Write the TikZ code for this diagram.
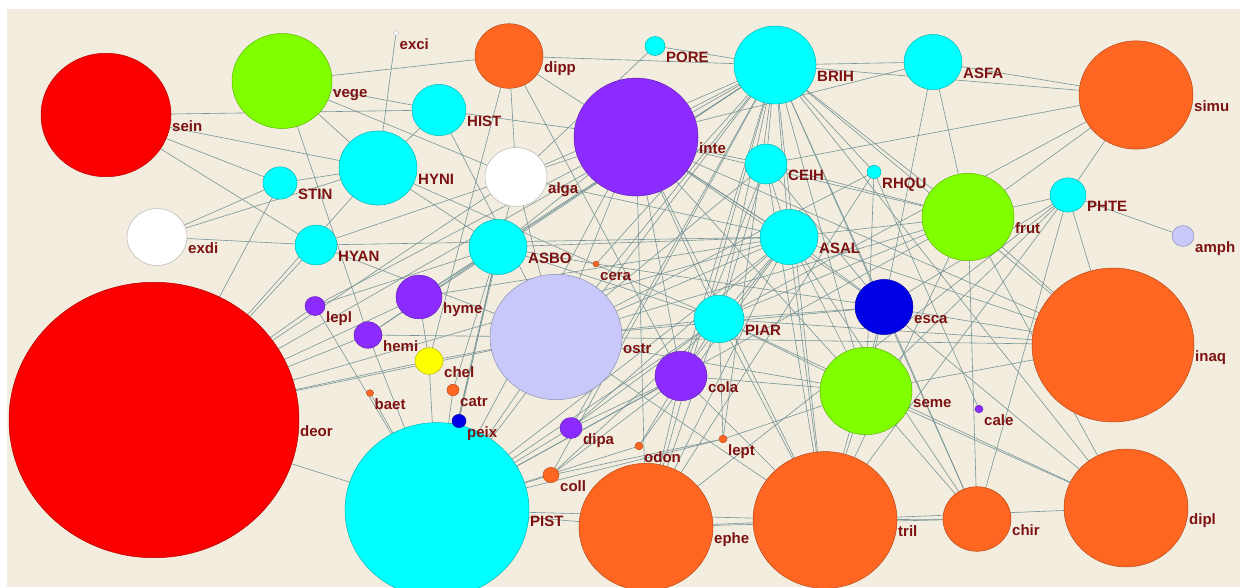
\documentclass[tikz,border=0pt]{standalone}
\usepackage{fontspec}
\setmainfont{Liberation Sans}
\usetikzlibrary{shapes.geometric}
\definecolor{bgc}{RGB}{242,237,222}
\definecolor{edgec}{RGB}{120,148,152}
\definecolor{labc}{RGB}{125,18,18}
\definecolor{redc}{RGB}{250,0,0}
\definecolor{greenc}{RGB}{128,255,0}
\definecolor{cyanc}{RGB}{0,255,255}
\definecolor{orangec}{RGB}{255,102,34}
\definecolor{purplec}{RGB}{140,43,255}
\definecolor{lavc}{RGB}{200,200,250}
\definecolor{bluec}{RGB}{0,0,230}
\definecolor{yellowc}{RGB}{255,255,0}
\definecolor{whitec}{RGB}{255,255,255}
\pgfdeclarelayer{bg}
\pgfdeclarelayer{edges}
\pgfsetlayers{bg,edges,main}
\tikzset{
  nd/.style={ellipse, inner sep=0pt, outer sep=0pt, fill=#1, draw=#1!72!black, line width=0.5pt},
  lbl/.style={anchor=base west, yshift=-16pt, xshift=1pt, inner sep=0pt, text=labc,
              font=\fontsize{15}{17}\selectfont\bfseries},
  edge/.style={draw=edgec, line width=0.6pt}
}
\newcommand\nd[6]{\node[nd=#5, minimum width=#4*2pt, minimum height=#4*1.9pt, label={[lbl]east:#6}] (#1) at (#2,#3) {};}
\begin{document}
\begin{tikzpicture}[x=1pt,y=-1pt]
\useasboundingbox (0,0) rectangle (1240,587);
\begin{pgfonlayer}{bg}
\fill[white] (0,0) rectangle (1240,587);
\fill[bgc] (7,9) rectangle (1240,587);
\end{pgfonlayer}
% nodes (large ones first so that labels of small ones stay on top)
\nd{PIST}{437}{510}{92}{cyanc}{PIST}
\nd{deor}{154}{420}{145}{redc}{deor}
\nd{sein}{106}{115}{65}{redc}{sein}
\nd{vege}{282}{81}{50}{greenc}{vege}
\nd{exci}{396}{33}{2.5}{whitec}{exci}
\nd{STIN}{280}{183}{17}{cyanc}{STIN}
\nd{exdi}{157}{237}{30}{whitec}{exdi}
\nd{HYNI}{378}{168}{39}{cyanc}{HYNI}
\nd{HYAN}{316}{245}{21}{cyanc}{HYAN}
\nd{dipp}{509}{56}{34}{orangec}{dipp}
\nd{PORE}{655}{46}{10}{cyanc}{PORE}
\nd{HIST}{439}{110}{27}{cyanc}{HIST}
\nd{alga}{516}{177}{31}{whitec}{alga}
\nd{inte}{636}{137}{62}{purplec}{inte}
\nd{ASBO}{498}{247}{29}{cyanc}{ASBO}
\nd{cera}{596}{264}{3}{orangec}{cera}
\nd{BRIH}{775}{65}{41}{cyanc}{BRIH}
\nd{CEIH}{766}{164}{21}{cyanc}{CEIH}
\nd{ASAL}{789}{237}{29}{cyanc}{ASAL}
\nd{ASFA}{933}{62}{29}{cyanc}{ASFA}
\nd{simu}{1136}{95}{57}{orangec}{simu}
\nd{RHQU}{874}{172}{7}{cyanc}{RHQU}
\nd{frut}{968}{217}{46}{greenc}{frut}
\nd{PHTE}{1068}{195}{18}{cyanc}{PHTE}
\nd{amph}{1183}{236}{11}{lavc}{amph}
\nd{lepl}{315}{306}{10}{purplec}{lepl}
\nd{hemi}{368}{335}{14}{purplec}{hemi}
\nd{baet}{370}{393}{3.5}{orangec}{baet}
\nd{hyme}{419}{297}{23}{purplec}{hyme}
\nd{chel}{429}{361}{14}{yellowc}{chel}
\nd{catr}{453}{390}{6}{orangec}{catr}
\nd{peix}{459}{421}{7}{bluec}{peix}
\nd{ostr}{556}{337}{66}{lavc}{ostr}
\nd{PIAR}{719}{319}{25}{cyanc}{PIAR}
\nd{cola}{681}{376}{26}{purplec}{cola}
\nd{dipa}{571}{428}{11}{purplec}{dipa}
\nd{odon}{639}{446}{4}{orangec}{odon}
\nd{lept}{723}{439}{4}{orangec}{lept}
\nd{coll}{551}{475}{8}{orangec}{coll}
\nd{ephe}{646}{527}{67}{orangec}{ephe}
\nd{tril}{825}{520}{72}{orangec}{tril}
\nd{esca}{884}{307}{29}{bluec}{esca}
\nd{seme}{866}{391}{46}{greenc}{seme}
\nd{cale}{979}{409}{4}{purplec}{cale}
\nd{inaq}{1113}{345}{81}{orangec}{inaq}
\nd{chir}{977}{519}{34}{orangec}{chir}
\nd{dipl}{1126}{508}{62}{orangec}{dipl}
% edges
\begin{pgfonlayer}{edges}
\foreach \a/\b in {
sein/HIST, sein/HYNI, sein/STIN, sein/HYAN,
vege/dipp, vege/HIST, vege/alga, vege/HYNI, vege/hemi,
exci/HYNI,
STIN/HYNI, STIN/deor,
exdi/STIN, exdi/HYNI, exdi/HYAN,
HYAN/deor, HYNI/deor, HYAN/alga, HYAN/ostr, HYAN/ASAL,
HYNI/HIST, HYNI/PIAR, HYNI/ASBO,
HIST/inte, HIST/ostr,
dipp/BRIH, dipp/chel, dipp/cola, dipp/ASAL, dipp/alga,
PORE/BRIH, PORE/alga,
alga/inte, alga/ostr, alga/PIST, alga/BRIH, alga/ASAL, alga/deor,
lepl/PIST, lepl/deor, lepl/ASBO, lepl/inte,
hemi/PIST, hemi/deor, hemi/ASBO, hemi/ostr, hemi/BRIH,
hyme/chel, hyme/ASBO, hyme/deor, hyme/BRIH, hyme/ASAL,
chel/PIST, chel/deor, chel/ostr,
catr/PIST, catr/ASBO,
peix/PIST, peix/ASBO,
baet/PIST,
deor/PIST, deor/ostr, deor/ASAL,
ASBO/PIST, ASBO/inte, ASBO/BRIH, ASBO/ASAL, ASBO/PIAR, ASBO/cera,
cera/BRIH, cera/esca,
ostr/inte, ostr/BRIH, ostr/ASAL, ostr/PIAR, ostr/CEIH, ostr/PIST, ostr/seme, ostr/esca, ostr/tril, ostr/frut,
dipa/PIST, dipa/cola, dipa/PIAR, dipa/ASAL, dipa/BRIH,
coll/PIST, coll/cola, coll/lept, coll/PIAR,
odon/cola, odon/PIST, odon/ASAL,
lept/PIST, lept/PIAR, lept/seme,
cola/PIAR, cola/BRIH, cola/ASAL, cola/inte, cola/PIST, cola/ephe, cola/seme, cola/tril, cola/CEIH,
PIAR/BRIH, PIAR/ASAL, PIAR/CEIH, PIAR/seme, PIAR/inaq, PIAR/PIST, PIAR/ephe, PIAR/tril, PIAR/simu, PIAR/dipl, PIAR/inte,
ASAL/BRIH, ASAL/CEIH, ASAL/inte, ASAL/PIST, ASAL/ephe, ASAL/tril, ASAL/chir, ASAL/esca, ASAL/frut, ASAL/seme, ASAL/inaq,
CEIH/BRIH, CEIH/simu, CEIH/tril, CEIH/inte, CEIH/esca, CEIH/frut,
BRIH/inte, BRIH/PIST, BRIH/ephe, BRIH/tril, BRIH/chir, BRIH/seme, BRIH/esca, BRIH/inaq, BRIH/frut, BRIH/ASFA, BRIH/dipl, BRIH/coll, BRIH/lept, BRIH/simu, BRIH/deor,
inte/PIST, inte/ephe, inte/seme, inte/esca, inte/frut, inte/inaq, inte/tril,
ASFA/inte, ASFA/simu, ASFA/esca, ASFA/frut,
RHQU/cale, RHQU/seme, RHQU/ephe, RHQU/BRIH, RHQU/ostr,
frut/simu, frut/PHTE, frut/PIAR, frut/inaq, frut/dipl, frut/tril, frut/chir, frut/PIST,
simu/PHTE,
PHTE/amph, PHTE/inaq, PHTE/chir, PHTE/esca, PHTE/seme, PHTE/tril, PHTE/ephe,
seme/inaq, seme/dipl, seme/chir, seme/esca, seme/tril,
esca/inaq, esca/dipl, esca/chir, esca/tril, esca/PIAR,
inaq/ostr,
PIST/ephe, PIST/tril, ephe/tril, ephe/chir, tril/chir, tril/dipl}
  \draw[edge] (\a) -- (\b);
\end{pgfonlayer}
\end{tikzpicture}
\end{document}
